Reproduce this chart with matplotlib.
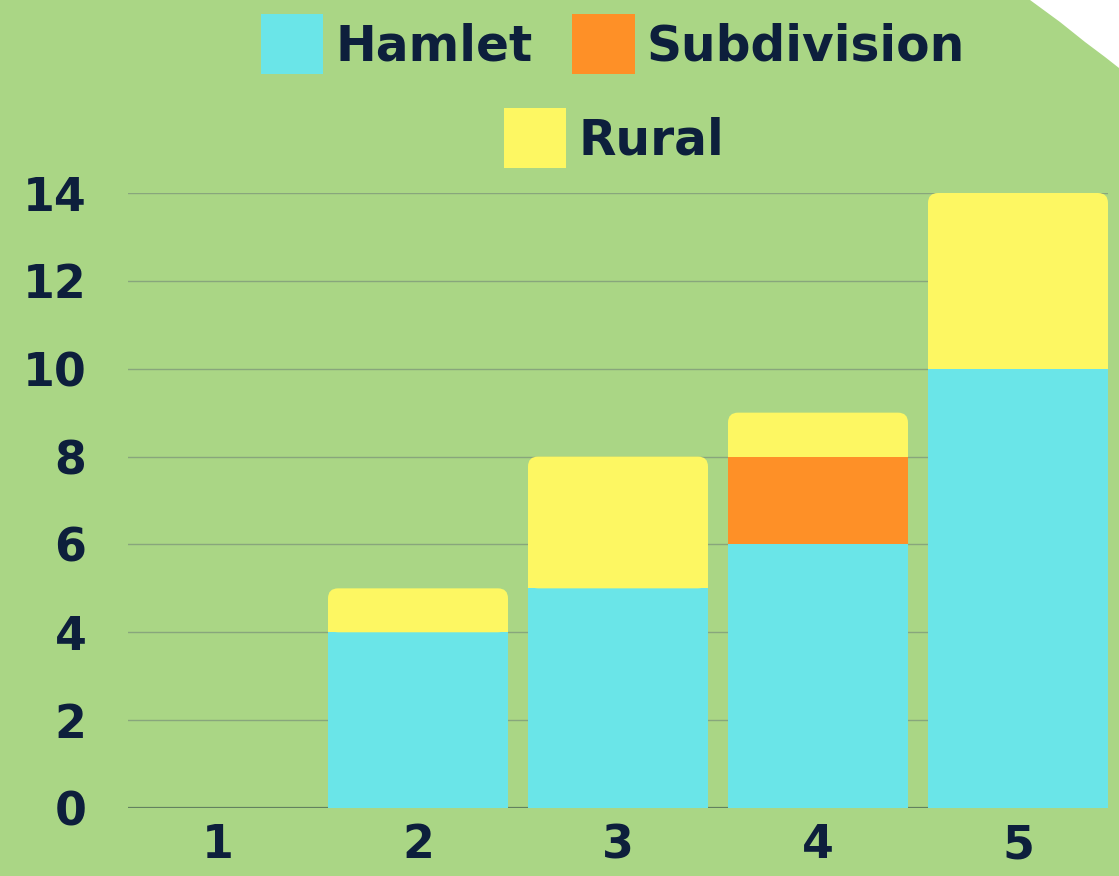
import matplotlib
matplotlib.use("Agg")
import matplotlib.pyplot as plt
from matplotlib.patches import FancyBboxPatch, Polygon, Patch

categories = ["1", "2", "3", "4", "5"]
hamlet = [0, 4, 5, 6, 10]
subdivision = [0, 0, 0, 2, 0]
rural = [0, 1, 3, 1, 4]
yticks = [0, 2, 4, 6, 8, 10, 12, 14]

BG = "#aad685"
C_HAM = "#6ae5e8"
C_SUB = "#fe9027"
C_RUR = "#fdf762"
TXT = "#0d1f3c"
FONT = ["DejaVu Sans"]

plt.rcParams["font.family"] = FONT

W, H = 1119, 876
fig = plt.figure(figsize=(W / 100, H / 100), dpi=100)
fig.patch.set_facecolor(BG)

ax = fig.add_axes([128 / W, 68 / H, (1108 - 128) / W, (808 - 193) / H])
ax.set_facecolor(BG)

x = list(range(1, len(categories) + 1))
width = 0.9
series = [("Hamlet", hamlet, C_HAM), ("Subdivision", subdivision, C_SUB), ("Rural", rural, C_RUR)]
bottoms = [0] * len(x)
containers = []
for name, vals, col in series:
    bc = ax.bar(x, vals, width, bottom=bottoms, color=col, label=name, zorder=2, linewidth=0)
    containers.append((bc, vals))
    bottoms = [b + v for b, v in zip(bottoms, vals)]

ax.set_xlim(0.55, 5.45)
ax.set_ylim(0, 14)

# round the top corners of the topmost segment of each stack
px_x = (1108 - 128) / (5.45 - 0.55)
px_y = (808 - 193) / 14
aspect = px_x / px_y
r = 0.05
for i in range(len(x)):
    top = None
    for bc, vals in containers:
        if vals[i] > 0:
            top = bc.patches[i]
    if top is None:
        continue
    bx, by = top.get_x(), top.get_y()
    bw, bh = top.get_width(), top.get_height()
    fb = FancyBboxPatch((bx, by), bw, bh, boxstyle=f"round,pad=0,rounding_size={r}",
                        mutation_aspect=aspect, facecolor=top.get_facecolor(),
                        linewidth=0, zorder=2)
    ax.add_patch(fb)
    top.set_height(bh / 2)

ax.set_yticks(yticks)
ax.set_xticks(x)
ax.set_xticklabels(categories)
ax.grid(axis="y", color="#88a67c", linewidth=1.0, zorder=0)
ax.set_axisbelow(True)
ax.axhline(0, color="#62825f", linewidth=1.6, zorder=1)
for s in ax.spines.values():
    s.set_visible(False)
ax.tick_params(axis="y", length=0, pad=30, labelsize=33, labelcolor=TXT)
ax.tick_params(axis="x", length=0, pad=11, labelsize=33, labelcolor=TXT)
for lab in ax.get_xticklabels() + ax.get_yticklabels():
    lab.set_fontweight("bold")

# legend (two rows, centered)
fs = 35
common = dict(frameon=False, handlelength=1.28, handleheight=1.5,
              handletextpad=0.25, columnspacing=0.82, borderpad=0, borderaxespad=0,
              labelcolor=TXT,
              prop={"family": FONT, "weight": "bold", "size": fs})
h1 = [Patch(facecolor=C_HAM, label="Hamlet"), Patch(facecolor=C_SUB, label="Subdivision")]
leg1 = fig.legend(handles=h1, ncol=2, loc="center", bbox_to_anchor=(613 / W, 1 - 44 / H), **common)
h2 = [Patch(facecolor=C_RUR, label="Rural")]
leg2 = fig.legend(handles=h2, ncol=1, loc="center", bbox_to_anchor=(614 / W, 1 - 138 / H), **common)

# white cut corner at top-right
corner = Polygon([(1030 / W, 1), (1060 / W, 1 - 22 / H), (1085 / W, 1 - 42 / H),
                  (1105 / W, 1 - 57 / H), (1, 1 - 68 / H), (1, 1)],
                 closed=True, transform=fig.transFigure, facecolor="white",
                 edgecolor="none", zorder=10)
fig.patches.append(corner)

fig.savefig("out.png", dpi=100, facecolor=BG)
